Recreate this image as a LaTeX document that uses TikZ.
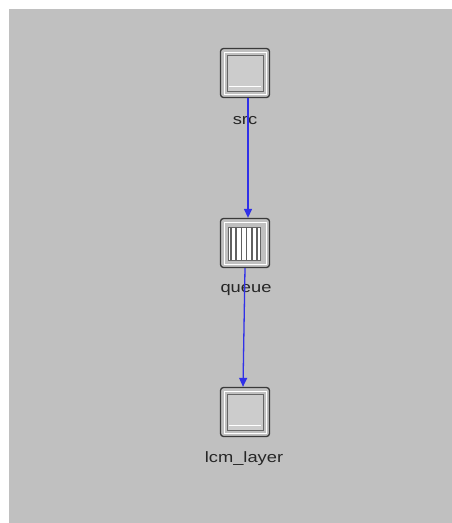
\documentclass[tikz,border=0pt]{standalone}
\usepackage{fontspec}
\setmainfont{Liberation Sans}
\usetikzlibrary{arrows.meta}
\definecolor{bg}{HTML}{C0C0C0}
\definecolor{boxline}{HTML}{3A3A3A}
\definecolor{innerfill}{HTML}{CCCCCC}
\definecolor{linkblue}{HTML}{3030E8}
\begin{document}
\begin{tikzpicture}[x=1pt,y=-1pt,
  modbox/.style={draw=boxline,line width=1.3pt,rounded corners=3pt,fill=bg,minimum width=49pt,minimum height=49pt,inner sep=0pt},
  lbl/.style={font=\fontsize{15}{15}\selectfont,text=black!85,inner sep=0pt,xscale=1.22},
  link/.style={draw=linkblue,line width=1.3pt,-{Triangle[length=9pt,width=8pt]}}]
\useasboundingbox (0,0) rectangle (452,523);
\fill[white] (0,0) rectangle (452,523);
\fill[bg] (9,9) rectangle (452,523);
% nodes
\node[modbox] (src) at (245,73) {};
\node[modbox] (queue) at (245,243) {};
\node[modbox] (lcm) at (245,412) {};
% inner squares
\foreach \n in {src,lcm}{
  \draw[white,line width=0.8pt] ([shift={(-21,-21)}]\n.center) rectangle ([shift={(21,21)}]\n.center);
  \draw[fill=innerfill,draw=gray!80!black,line width=0.7pt] ([shift={(-18,-18)}]\n.center) rectangle ([shift={(18,18)}]\n.center);
  \draw[white,line width=0.7pt] ([shift={(-16,13)}]\n.center) -- ([shift={(16,13)}]\n.center);
}
\draw[white,line width=0.8pt] ([shift={(-21,-21)}]queue.center) rectangle ([shift={(21,21)}]queue.center);
\draw[fill=white,draw=gray!80!black,line width=0.7pt] ([shift={(-17,-16)}]queue.center) rectangle ([shift={(15,17)}]queue.center);
\foreach \i in {0,...,5}{
  \draw[gray!75!black,line width=1.6pt] ([shift={(-14+\i*5.2,-16)}]queue.center) -- ([shift={(-14+\i*5.2,17)}]queue.center);
}
% labels
\node[lbl] (srcl) at (245,121) {src};
\node[lbl] (queuel) at (246,290) {queue};
\node[lbl] (lcml) at (244,459) {lcm\_layer};
% links
\draw[link] ([xshift=3pt]src.south) -- ([xshift=3pt]queue.north);
\draw[link] ([xshift=0pt]queue.south) -- ([xshift=-2pt]lcm.north);
\end{tikzpicture}
\end{document}
